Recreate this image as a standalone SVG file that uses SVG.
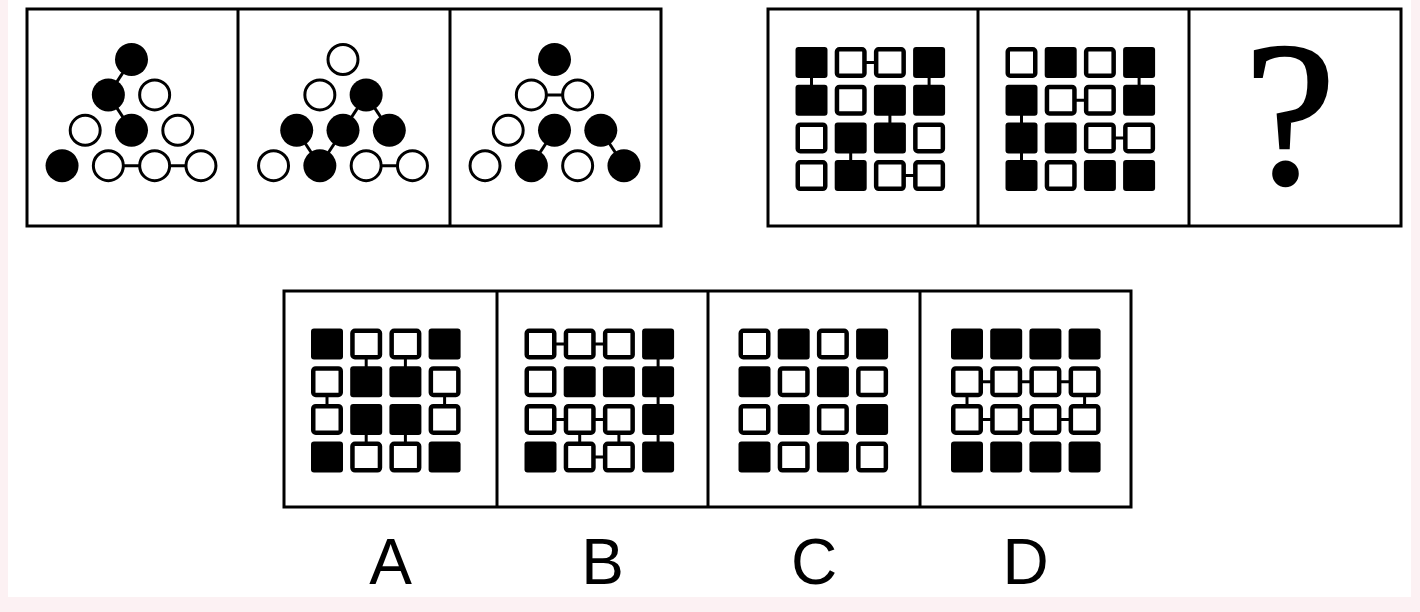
<svg xmlns="http://www.w3.org/2000/svg" xmlns:xlink="http://www.w3.org/1999/xlink" width="1420" height="612" viewBox="0 0 1420 612">
<style>
.frame{fill:none;stroke:#000;stroke-width:3}
.div{stroke:#000;stroke-width:3}
.ln{stroke:#000;stroke-width:3;fill:none}
.cf{fill:#000}
.co{fill:#fff;stroke:#000;stroke-width:3}
.lbl{font-family:"Liberation Sans",Arial,sans-serif;font-size:64px;fill:#000;text-anchor:middle}
.q{font-family:"Liberation Serif","Times New Roman",serif;font-size:205px;fill:#000;stroke:#000;stroke-width:2.5;text-anchor:middle}
</style>
<defs>
<rect id="sf" x="-16" y="-15.5" width="32" height="31" rx="3" fill="#000"/>
<rect id="so" x="-13.75" y="-13.25" width="27.5" height="26.5" rx="2.5" fill="#fff" stroke="#000" stroke-width="4.5"/>
<circle id="cf" r="16.5" class="cf"/>
<circle id="co" r="15" class="co"/>
</defs>
<rect x="0" y="0" width="1420" height="612" fill="#fcf1f3"/>
<rect x="8" y="0" width="1403" height="597" fill="#fff"/>

<g id="frames">
<rect class="frame" x="27" y="9" width="634" height="217"/>
<line class="div" x1="238" y1="9" x2="238" y2="226"/>
<line class="div" x1="450" y1="9" x2="450" y2="226"/>
<rect class="frame" x="768" y="9" width="633" height="217"/>
<line class="div" x1="978" y1="9" x2="978" y2="226"/>
<line class="div" x1="1189" y1="9" x2="1189" y2="226"/>
<rect class="frame" x="284" y="291" width="847" height="216"/>
<line class="div" x1="497" y1="291" x2="497" y2="507"/>
<line class="div" x1="708" y1="291" x2="708" y2="507"/>
<line class="div" x1="920" y1="291" x2="920" y2="507"/>
</g>

<g id="connectors">
<g transform="translate(131.5,59.5)">
<line class="ln" x1="0" y1="0" x2="-23.15" y2="35.4"/>
<line class="ln" x1="-23.15" y1="35.4" x2="0" y2="70.8"/>
<line class="ln" x1="-23.15" y1="106.2" x2="23.15" y2="106.2"/>
<line class="ln" x1="23.15" y1="106.2" x2="69.45" y2="106.2"/>
</g>
<g transform="translate(343,59.5)">
<line class="ln" x1="23.15" y1="35.4" x2="0" y2="70.8"/>
<line class="ln" x1="23.15" y1="35.4" x2="46.3" y2="70.8"/>
<line class="ln" x1="-46.3" y1="70.8" x2="-23.15" y2="106.2"/>
<line class="ln" x1="0" y1="70.8" x2="-23.15" y2="106.2"/>
<line class="ln" x1="23.15" y1="106.2" x2="69.45" y2="106.2"/>
</g>
<g transform="translate(554.5,59.5)">
<line class="ln" x1="-23.15" y1="35.4" x2="23.15" y2="35.4"/>
<line class="ln" x1="0" y1="70.8" x2="-23.15" y2="106.2"/>
<line class="ln" x1="46.3" y1="70.8" x2="69.45" y2="106.2"/>
</g>
<g transform="translate(811.5,62.5)">
<line class="ln" x1="39.2" y1="0" x2="78.4" y2="0"/>
<line class="ln" x1="0" y1="0" x2="0" y2="37.7"/>
<line class="ln" x1="117.6" y1="0" x2="117.6" y2="37.7"/>
<line class="ln" x1="78.4" y1="37.7" x2="78.4" y2="75.4"/>
<line class="ln" x1="39.2" y1="75.4" x2="39.2" y2="113.1"/>
<line class="ln" x1="78.4" y1="113.1" x2="117.6" y2="113.1"/>
</g>
<g transform="translate(1021.5,62.5)">
<line class="ln" x1="117.6" y1="0" x2="117.6" y2="37.7"/>
<line class="ln" x1="39.2" y1="37.7" x2="78.4" y2="37.7"/>
<line class="ln" x1="0" y1="37.7" x2="0" y2="75.4"/>
<line class="ln" x1="78.4" y1="75.4" x2="117.6" y2="75.4"/>
<line class="ln" x1="0" y1="75.4" x2="0" y2="113.1"/>
</g>
<g transform="translate(327,344)">
<line class="ln" x1="39.2" y1="0" x2="39.2" y2="37.7"/>
<line class="ln" x1="78.4" y1="0" x2="78.4" y2="37.7"/>
<line class="ln" x1="0" y1="37.7" x2="0" y2="75.4"/>
<line class="ln" x1="117.6" y1="37.7" x2="117.6" y2="75.4"/>
<line class="ln" x1="39.2" y1="75.4" x2="39.2" y2="113.1"/>
<line class="ln" x1="78.4" y1="75.4" x2="78.4" y2="113.1"/>
</g>
<g transform="translate(540.5,344)">
<line class="ln" x1="0" y1="0" x2="78.4" y2="0"/>
<line class="ln" x1="117.6" y1="0" x2="117.6" y2="113.1"/>
<line class="ln" x1="0" y1="75.4" x2="78.4" y2="75.4"/>
<line class="ln" x1="39.2" y1="75.4" x2="39.2" y2="113.1"/>
<line class="ln" x1="78.4" y1="75.4" x2="78.4" y2="113.1"/>
<line class="ln" x1="39.2" y1="113.1" x2="78.4" y2="113.1"/>
</g>
<g transform="translate(967,344)">
<line class="ln" x1="0" y1="37.7" x2="117.6" y2="37.7"/>
<line class="ln" x1="0" y1="75.4" x2="117.6" y2="75.4"/>
<line class="ln" x1="0" y1="37.7" x2="0" y2="75.4"/>
<line class="ln" x1="117.6" y1="37.7" x2="117.6" y2="75.4"/>
</g>
</g>

<g id="tri1" transform="translate(131.5,59.5)">
<use href="#cf" x="0" y="0"/>
<use href="#cf" x="-23.15" y="35.4"/><use href="#co" x="23.15" y="35.4"/>
<use href="#co" x="-46.3" y="70.8"/><use href="#cf" x="0" y="70.8"/><use href="#co" x="46.3" y="70.8"/>
<use href="#cf" x="-69.45" y="106.2"/><use href="#co" x="-23.15" y="106.2"/><use href="#co" x="23.15" y="106.2"/><use href="#co" x="69.45" y="106.2"/>
</g>
<g id="tri2" transform="translate(343,59.5)">
<use href="#co" x="0" y="0"/>
<use href="#co" x="-23.15" y="35.4"/><use href="#cf" x="23.15" y="35.4"/>
<use href="#cf" x="-46.3" y="70.8"/><use href="#cf" x="0" y="70.8"/><use href="#cf" x="46.3" y="70.8"/>
<use href="#co" x="-69.45" y="106.2"/><use href="#cf" x="-23.15" y="106.2"/><use href="#co" x="23.15" y="106.2"/><use href="#co" x="69.45" y="106.2"/>
</g>
<g id="tri3" transform="translate(554.5,59.5)">
<use href="#cf" x="0" y="0"/>
<use href="#co" x="-23.15" y="35.4"/><use href="#co" x="23.15" y="35.4"/>
<use href="#co" x="-46.3" y="70.8"/><use href="#cf" x="0" y="70.8"/><use href="#cf" x="46.3" y="70.8"/>
<use href="#co" x="-69.45" y="106.2"/><use href="#cf" x="-23.15" y="106.2"/><use href="#co" x="23.15" y="106.2"/><use href="#cf" x="69.45" y="106.2"/>
</g>

<g id="grid1" transform="translate(811.5,62.5)">
<use href="#sf" x="0" y="0"/><use href="#so" x="39.2" y="0"/><use href="#so" x="78.4" y="0"/><use href="#sf" x="117.6" y="0"/>
<use href="#sf" x="0" y="37.7"/><use href="#so" x="39.2" y="37.7"/><use href="#sf" x="78.4" y="37.7"/><use href="#sf" x="117.6" y="37.7"/>
<use href="#so" x="0" y="75.4"/><use href="#sf" x="39.2" y="75.4"/><use href="#sf" x="78.4" y="75.4"/><use href="#so" x="117.6" y="75.4"/>
<use href="#so" x="0" y="113.1"/><use href="#sf" x="39.2" y="113.1"/><use href="#so" x="78.4" y="113.1"/><use href="#so" x="117.6" y="113.1"/>
</g>
<g id="grid2" transform="translate(1021.5,62.5)">
<use href="#so" x="0" y="0"/><use href="#sf" x="39.2" y="0"/><use href="#so" x="78.4" y="0"/><use href="#sf" x="117.6" y="0"/>
<use href="#sf" x="0" y="37.7"/><use href="#so" x="39.2" y="37.7"/><use href="#so" x="78.4" y="37.7"/><use href="#sf" x="117.6" y="37.7"/>
<use href="#sf" x="0" y="75.4"/><use href="#sf" x="39.2" y="75.4"/><use href="#so" x="78.4" y="75.4"/><use href="#so" x="117.6" y="75.4"/>
<use href="#sf" x="0" y="113.1"/><use href="#so" x="39.2" y="113.1"/><use href="#sf" x="78.4" y="113.1"/><use href="#sf" x="117.6" y="113.1"/>
</g>
<g id="question">
<text class="q" x="1290" y="183">?</text>
</g>

<g id="optA" transform="translate(327,344)">
<use href="#sf" x="0" y="0"/><use href="#so" x="39.2" y="0"/><use href="#so" x="78.4" y="0"/><use href="#sf" x="117.6" y="0"/>
<use href="#so" x="0" y="37.7"/><use href="#sf" x="39.2" y="37.7"/><use href="#sf" x="78.4" y="37.7"/><use href="#so" x="117.6" y="37.7"/>
<use href="#so" x="0" y="75.4"/><use href="#sf" x="39.2" y="75.4"/><use href="#sf" x="78.4" y="75.4"/><use href="#so" x="117.6" y="75.4"/>
<use href="#sf" x="0" y="113.1"/><use href="#so" x="39.2" y="113.1"/><use href="#so" x="78.4" y="113.1"/><use href="#sf" x="117.6" y="113.1"/>
</g>
<g id="optB" transform="translate(540.5,344)">
<use href="#so" x="0" y="0"/><use href="#so" x="39.2" y="0"/><use href="#so" x="78.4" y="0"/><use href="#sf" x="117.6" y="0"/>
<use href="#so" x="0" y="37.7"/><use href="#sf" x="39.2" y="37.7"/><use href="#sf" x="78.4" y="37.7"/><use href="#sf" x="117.6" y="37.7"/>
<use href="#so" x="0" y="75.4"/><use href="#so" x="39.2" y="75.4"/><use href="#so" x="78.4" y="75.4"/><use href="#sf" x="117.6" y="75.4"/>
<use href="#sf" x="0" y="113.1"/><use href="#so" x="39.2" y="113.1"/><use href="#so" x="78.4" y="113.1"/><use href="#sf" x="117.6" y="113.1"/>
</g>
<g id="optC" transform="translate(754.5,344)">
<use href="#so" x="0" y="0"/><use href="#sf" x="39.2" y="0"/><use href="#so" x="78.4" y="0"/><use href="#sf" x="117.6" y="0"/>
<use href="#sf" x="0" y="37.7"/><use href="#so" x="39.2" y="37.7"/><use href="#sf" x="78.4" y="37.7"/><use href="#so" x="117.6" y="37.7"/>
<use href="#so" x="0" y="75.4"/><use href="#sf" x="39.2" y="75.4"/><use href="#so" x="78.4" y="75.4"/><use href="#sf" x="117.6" y="75.4"/>
<use href="#sf" x="0" y="113.1"/><use href="#so" x="39.2" y="113.1"/><use href="#sf" x="78.4" y="113.1"/><use href="#so" x="117.6" y="113.1"/>
</g>
<g id="optD" transform="translate(967,344)">
<use href="#sf" x="0" y="0"/><use href="#sf" x="39.2" y="0"/><use href="#sf" x="78.4" y="0"/><use href="#sf" x="117.6" y="0"/>
<use href="#so" x="0" y="37.7"/><use href="#so" x="39.2" y="37.7"/><use href="#so" x="78.4" y="37.7"/><use href="#so" x="117.6" y="37.7"/>
<use href="#so" x="0" y="75.4"/><use href="#so" x="39.2" y="75.4"/><use href="#so" x="78.4" y="75.4"/><use href="#so" x="117.6" y="75.4"/>
<use href="#sf" x="0" y="113.1"/><use href="#sf" x="39.2" y="113.1"/><use href="#sf" x="78.4" y="113.1"/><use href="#sf" x="117.6" y="113.1"/>
</g>

<g id="labels">
<text class="lbl" x="390.5" y="584">A</text>
<text class="lbl" x="602.5" y="584">B</text>
<text class="lbl" x="814" y="584">C</text>
<text class="lbl" x="1025.5" y="584">D</text>
</g>
</svg>
